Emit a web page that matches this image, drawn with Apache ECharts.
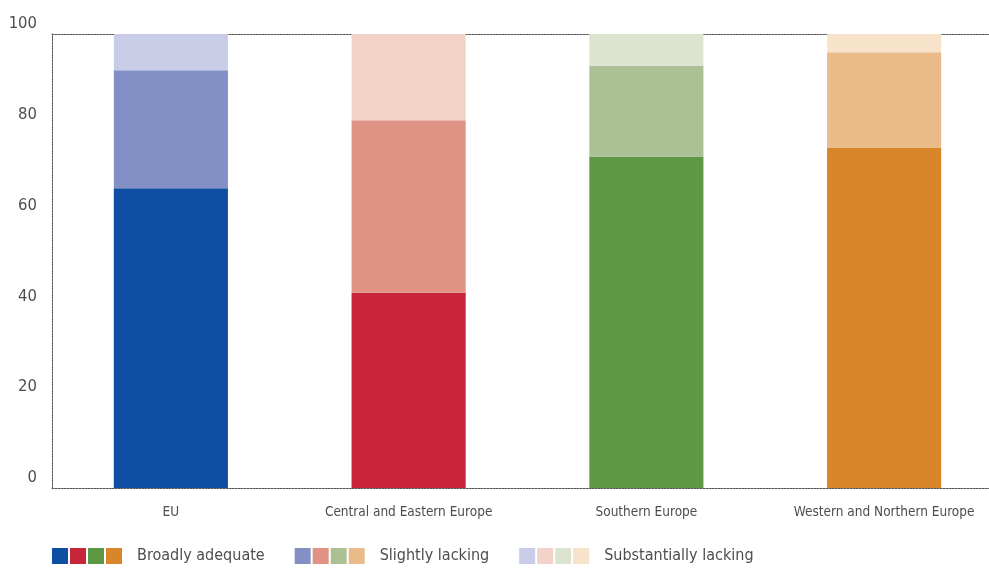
<!DOCTYPE html>
<html>
<head>
<meta charset="utf-8">
<script src="https://cdn.jsdelivr.net/npm/echarts@6/dist/echarts.min.js"></script>
<style>
  html, body { margin: 0; padding: 0; background: #ffffff; overflow: hidden; }
  #chart { width: 989px; height: 568px; }
</style>
</head>
<body>
<div id="chart"></div>
<script>
// Regions along the x axis
const regions = ['EU', 'Central and Eastern Europe', 'Southern Europe', 'Western and Northern Europe'];

// Share of respondents (%) per assessment, one value per region
const broadlyAdequate = [66, 43, 73, 75];
const slightlyLacking = [26, 38, 20, 21];
const substantiallyLacking = [8, 19, 7, 4];

const seriesNames = ['Broadly adequate', 'Slightly lacking', 'Substantially lacking'];

// Value axis ticks
const yTicks = [0, 20, 40, 60, 80, 100];

// Palette: one hue per region, three shades per assessment
const palette = [
  ['#0E4EA3', '#C8243A', '#5E9845', '#D9852A'],
  ['#8390C6', '#E09285', '#ABC195', '#EABB88'],
  ['#C8CCE6', '#F2D1C7', '#DCE3CF', '#F6E3CA']
];

const FONT = '"Liberation Sans Narrow", "DejaVu Sans Condensed", "Liberation Sans", sans-serif';
const TEXT = '#4d4d4d';
const DOT = { color: '#555', width: 1, type: [2, 1] };

function coloured(values, shade) {
  return values.map((v, i) => ({ value: v, itemStyle: { color: palette[shade][i] } }));
}

// Legend swatches: four small squares, then the label
const rich = { g: { width: 2 }, s: { width: 15 }, t: { fontFamily: FONT, fontSize: 16, color: TEXT } };
palette.forEach((row, s) => row.forEach((c, i) => {
  rich['k' + s + '_' + i] = { width: 16, height: 16, backgroundColor: c };
}));

const chart = echarts.init(document.getElementById('chart'), null, { renderer: 'canvas' });
chart.setOption({
  animation: false,
  textStyle: { fontFamily: FONT },
  // the plot runs a little past the right edge of the canvas
  grid: { left: 52, top: 34, width: 951, height: 454, containLabel: false, outerBoundsMode: 'none' },
  legend: {
    left: 42, top: 543,
    itemWidth: 0, itemHeight: 0, itemGap: 25,
    itemStyle: { opacity: 0 },
    data: seriesNames,
    formatter: function (name) {
      const s = seriesNames.indexOf(name);
      return '{k' + s + '_0| }{g| }{k' + s + '_1| }{g| }{k' + s + '_2| }{g| }{k' + s + '_3| }{s| }{t|' + name + '}';
    },
    textStyle: { rich: rich, fontFamily: FONT, fontSize: 16, color: TEXT }
  },
  xAxis: [{
    type: 'category',
    data: regions,
    position: 'bottom',
    axisLine: { show: true, lineStyle: DOT },
    axisTick: { show: false },
    axisLabel: { color: TEXT, fontSize: 13.5, fontFamily: FONT, margin: 17, interval: 0 }
  }, {
    type: 'category',
    data: regions,
    position: 'top',
    axisLine: { show: true, lineStyle: DOT },
    axisTick: { show: false },
    axisLabel: { show: false }
  }],
  yAxis: {
    type: 'value',
    min: yTicks[0], max: yTicks[yTicks.length - 1], interval: yTicks[1] - yTicks[0],
    axisLine: { show: true, lineStyle: DOT },
    axisTick: { show: false },
    splitLine: { show: false },
    axisLabel: { color: TEXT, fontSize: 16.5, fontFamily: FONT, margin: 15, verticalAlign: 'bottom', lineHeight: 20 }
  },
  series: [
    { name: seriesNames[0], type: 'bar', stack: 'all', barWidth: '48%', data: coloured(broadlyAdequate, 0), itemStyle: { color: palette[0][0] } },
    { name: seriesNames[1], type: 'bar', stack: 'all', barWidth: '48%', data: coloured(slightlyLacking, 1), itemStyle: { color: palette[1][0] } },
    { name: seriesNames[2], type: 'bar', stack: 'all', barWidth: '48%', data: coloured(substantiallyLacking, 2), itemStyle: { color: palette[2][0] } }
  ]
});
</script>
</body>
</html>
